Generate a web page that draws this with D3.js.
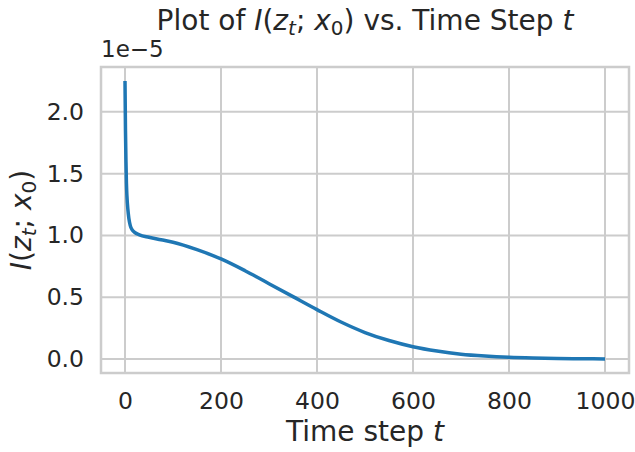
<!DOCTYPE html>
<html>
<head>
<meta charset="utf-8">
<script src="https://cdn.jsdelivr.net/npm/d3@7"></script>
<style>
  body { margin: 0; background: #fff; }
  text { font-family: "DejaVu Sans", sans-serif; fill: #262626; }
</style>
</head>
<body>
<div id="canvas"></div>
<script>
// data (values in units of 1e-5)
var steps = [0, 1, 2, 3, 4, 6, 8, 11, 15, 20, 30, 50, 75, 100, 150, 200, 250, 300, 350, 400,
             450, 500, 550, 600, 650, 700, 750, 800, 850, 900, 950, 1000];
var info  = [2.25, 1.85, 1.6, 1.42, 1.32, 1.21, 1.14, 1.08, 1.045, 1.025, 1.005, 0.985, 0.965, 0.945, 0.885, 0.81, 0.715, 0.61, 0.505, 0.40,
             0.30, 0.215, 0.15, 0.10, 0.065, 0.04, 0.025, 0.015, 0.009, 0.005, 0.003, 0.001];
var xTicks = [0, 200, 400, 600, 800, 1000];
var yTicks = [0, 0.5, 1.0, 1.5, 2.0];

var W = 635, H = 452;
var m = {t: 67, r: 6, b: 79, l: 101};

var svg = d3.select('#canvas').append('svg')
    .attr('width', W).attr('height', H);

var data = steps.map(function(s, i) { return {t: s, v: info[i]}; });

var x = d3.scaleLinear().domain([-50, 1050]).range([m.l, W - m.r]);
var y = d3.scaleLinear().domain([-0.1125, 2.3625]).range([H - m.b, m.t]);

var grid = svg.append('g');
grid.selectAll('.gx').data(xTicks).enter().append('line')
    .attr('x1', function(d){return x(d);}).attr('x2', function(d){return x(d);})
    .attr('y1', m.t).attr('y2', H - m.b)
    .attr('stroke', '#cccccc').attr('stroke-width', 2);
grid.selectAll('.gy').data(yTicks).enter().append('line')
    .attr('y1', function(d){return y(d);}).attr('y2', function(d){return y(d);})
    .attr('x1', m.l).attr('x2', W - m.r)
    .attr('stroke', '#cccccc').attr('stroke-width', 2);

// the curve
var line = d3.line()
    .x(function(d){return x(d.t);})
    .y(function(d){return y(d.v);})
    .curve(d3.curveMonotoneX);
svg.append('path').datum(data)
    .attr('d', line)
    .attr('fill', 'none')
    .attr('stroke', '#1f77b4')
    .attr('stroke-width', 3.5)
    .attr('stroke-linecap', 'butt');

// frame
svg.append('rect')
    .attr('x', m.l).attr('y', m.t)
    .attr('width', W - m.r - m.l).attr('height', H - m.b - m.t)
    .attr('fill', 'none').attr('stroke', '#cccccc').attr('stroke-width', 2.5);

// axes (no tick marks, only labels)
var axisX = d3.axisBottom(x).tickValues(xTicks).tickSize(0).tickPadding(19)
    .tickFormat(d3.format('d'));
var gx = svg.append('g').attr('transform', 'translate(0,' + (H - m.b) + ')').call(axisX);
var axisY = d3.axisLeft(y).tickValues(yTicks).tickSize(0).tickPadding(17)
    .tickFormat(d3.format('.1f'));
var gy = svg.append('g').attr('transform', 'translate(' + m.l + ',0)').call(axisY);
[gx, gy].forEach(function(g) {
  g.select('.domain').remove();
  g.selectAll('text').attr('font-size', 23.5).attr('font-family', '"DejaVu Sans", sans-serif')
    .attr('fill', '#262626');
});

// offset label
svg.append('text').attr('x', m.l).attr('y', 57).attr('font-size', 23).text('1e\u22125');

// title
var title = svg.append('text').attr('x', (m.l + W - m.r) / 2).attr('y', 30)
    .attr('text-anchor', 'middle').attr('font-size', 28);
title.append('tspan').text('Plot of ');
title.append('tspan').attr('font-style', 'italic').text('I');
title.append('tspan').text('(');
title.append('tspan').attr('font-style', 'italic').text('z');
title.append('tspan').attr('font-style', 'italic').attr('font-size', 20).attr('dy', 5).text('t');
title.append('tspan').attr('dy', -5).text('; ');
title.append('tspan').attr('font-style', 'italic').text('x');
title.append('tspan').attr('font-size', 20).attr('dy', 5).text('0');
title.append('tspan').attr('dy', -5).text(') vs. Time Step ');
title.append('tspan').attr('font-style', 'italic').text('t');

// x label
var xl = svg.append('text').attr('x', (m.l + W - m.r) / 2).attr('y', 441)
    .attr('text-anchor', 'middle').attr('font-size', 28);
xl.append('tspan').text('Time step ');
xl.append('tspan').attr('font-style', 'italic').text('t');

// y label
var yl = svg.append('text')
    .attr('transform', 'translate(31,' + ((m.t + H - m.b) / 2) + ') rotate(-90)')
    .attr('text-anchor', 'middle').attr('font-size', 28);
yl.append('tspan').attr('font-style', 'italic').text('I');
yl.append('tspan').text('(');
yl.append('tspan').attr('font-style', 'italic').text('z');
yl.append('tspan').attr('font-style', 'italic').attr('font-size', 20).attr('dy', 5).text('t');
yl.append('tspan').attr('dy', -5).text('; ');
yl.append('tspan').attr('font-style', 'italic').text('x');
yl.append('tspan').attr('font-size', 20).attr('dy', 5).text('0');
yl.append('tspan').attr('dy', -5).text(')');
</script>
</body>
</html>
